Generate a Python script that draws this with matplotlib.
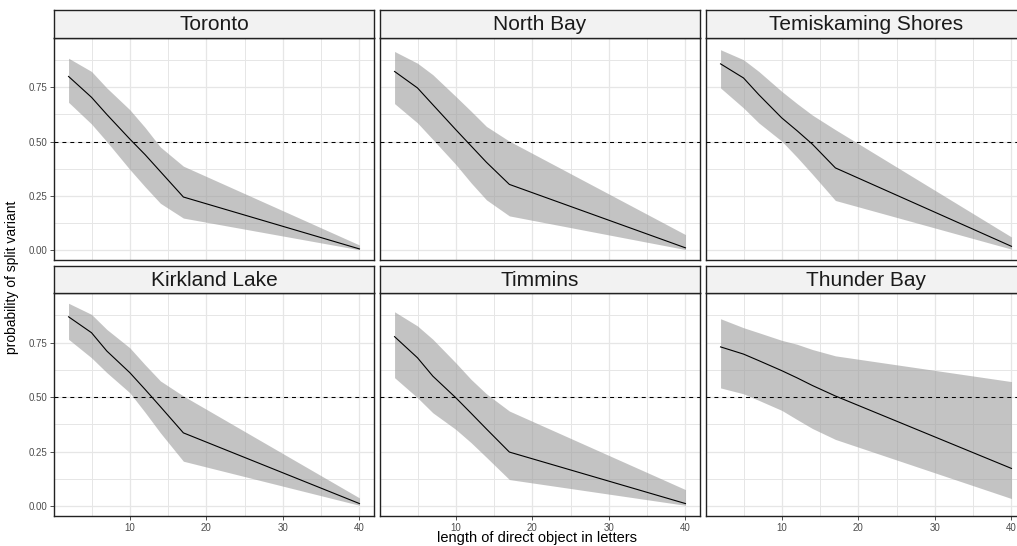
import matplotlib
matplotlib.use("Agg")
import matplotlib.pyplot as plt
from matplotlib.ticker import FixedLocator

plt.rcParams['font.family'] = ['Liberation Sans', 'DejaVu Sans']

# ---------------- data ----------------
communities = ["Toronto", "North Bay", "Temiskaming Shores",
               "Kirkland Lake", "Timmins", "Thunder Bay"]
length_letters = [2, 5, 7, 10, 12, 14, 17, 40]

fit_toronto = [0.800, 0.704, 0.625, 0.512, 0.440, 0.362, 0.245, 0.006]
lo_toronto = [0.681, 0.581, 0.500, 0.372, 0.292, 0.216, 0.148, 0.002]
hi_toronto = [0.884, 0.823, 0.747, 0.647, 0.565, 0.475, 0.387, 0.024]

fit_northbay = [0.823, 0.747, 0.670, 0.555, 0.480, 0.405, 0.303, 0.011]
lo_northbay = [0.675, 0.586, 0.510, 0.395, 0.310, 0.232, 0.158, 0.003]
hi_northbay = [0.915, 0.861, 0.808, 0.708, 0.640, 0.570, 0.502, 0.072]

fit_temiskaming = [0.858, 0.793, 0.716, 0.609, 0.550, 0.488, 0.379, 0.018]
lo_temiskaming = [0.747, 0.655, 0.586, 0.502, 0.428, 0.350, 0.229, 0.005]
hi_temiskaming = [0.923, 0.877, 0.823, 0.731, 0.675, 0.622, 0.555, 0.061]

fit_kirkland = [0.868, 0.795, 0.711, 0.612, 0.535, 0.456, 0.336, 0.012]
lo_kirkland = [0.765, 0.680, 0.612, 0.520, 0.430, 0.336, 0.206, 0.004]
hi_kirkland = [0.930, 0.879, 0.810, 0.726, 0.648, 0.574, 0.505, 0.038]

fit_timmins = [0.777, 0.680, 0.596, 0.497, 0.426, 0.354, 0.248, 0.012]
lo_timmins = [0.589, 0.497, 0.428, 0.352, 0.291, 0.224, 0.122, 0.004]
hi_timmins = [0.891, 0.826, 0.765, 0.657, 0.581, 0.515, 0.436, 0.076]

fit_thunderbay = [0.730, 0.697, 0.667, 0.621, 0.588, 0.553, 0.505, 0.173]
lo_thunderbay = [0.542, 0.515, 0.485, 0.439, 0.397, 0.356, 0.306, 0.035]
hi_thunderbay = [0.859, 0.818, 0.795, 0.760, 0.742, 0.718, 0.689, 0.571]

fits = [fit_toronto, fit_northbay, fit_temiskaming, fit_kirkland, fit_timmins, fit_thunderbay]
los = [lo_toronto, lo_northbay, lo_temiskaming, lo_kirkland, lo_timmins, lo_thunderbay]
his = [hi_toronto, hi_northbay, hi_temiskaming, hi_kirkland, hi_timmins, hi_thunderbay]

x_ticks = [10, 20, 30, 40]
y_ticks = [0.00, 0.25, 0.50, 0.75]
y_ticklabels = ["0.00", "0.25", "0.50", "0.75"]
threshold = 0.5

# ---------------- layout (pixels) ----------------
W, H = 1017, 546
fig = plt.figure(figsize=(W / 100, H / 100), dpi=100)

col_left = [54, 380, 706]
panel_w = 320
rows = [(10, 38, 260), (266, 293, 516)]  # strip top, panel top, panel bottom


def px_axes(x0, y0, x1, y1):
    return fig.add_axes([x0 / W, 1 - y1 / H, (x1 - x0) / W, (y1 - y0) / H])


grid_col = "#E6E6E6"
for i, name in enumerate(communities):
    r, c = divmod(i, 3)
    st, pt, pb = rows[r]
    x0 = col_left[c]
    ax = px_axes(x0, pt, x0 + panel_w, pb)
    ax.set_xlim(0.1, 41.9)
    ax.set_ylim(-0.045, 0.977)
    ax.set_facecolor("white")
    ax.xaxis.set_major_locator(FixedLocator(x_ticks))
    ax.xaxis.set_minor_locator(FixedLocator([5, 15, 25, 35]))
    ax.yaxis.set_major_locator(FixedLocator(y_ticks))
    ax.yaxis.set_minor_locator(FixedLocator([0.125, 0.375, 0.625, 0.875]))
    ax.grid(which="major", color=grid_col, lw=0.9)
    ax.grid(which="minor", color=grid_col, lw=0.7)
    ax.set_axisbelow(True)
    ax.fill_between(length_letters, los[i], his[i], color="#999999",
                    alpha=0.58, lw=0, zorder=2)
    ax.plot(length_letters, fits[i], color="black", lw=0.8, zorder=3)
    ax.axhline(threshold, color="black", lw=0.75, ls=(0, (3.8, 3.8)), zorder=4)
    for s in ax.spines.values():
        s.set_color("#222222")
        s.set_linewidth(1.0)
    ax.tick_params(which="minor", length=0)
    ax.tick_params(which="major", length=3, width=0.6, color="#333333",
                   labelsize=7, labelcolor="#4D4D4D", pad=2)
    if c == 0:
        ax.set_yticklabels(y_ticklabels)
    else:
        ax.tick_params(axis="y", labelleft=False, length=0)
    if r == 1:
        ax.set_xticklabels([str(v) for v in x_ticks])
    else:
        ax.tick_params(axis="x", labelbottom=False, length=0)

    sax = px_axes(x0, st, x0 + panel_w, pt)
    sax.set_facecolor("#F2F2F2")
    sax.set_xticks([])
    sax.set_yticks([])
    for s in sax.spines.values():
        s.set_color("#222222")
        s.set_linewidth(1.0)
    sax.text(0.5, 0.48, name, ha="center", va="center", fontsize=15,
             color="#1A1A1A", transform=sax.transAxes)

fig.text(12 / W, 1 - 277 / H, "probability of split variant", rotation=90,
         ha="center", va="center", fontsize=10, color="black")
fig.text(537 / W, 1 - 538 / H, "length of direct object in letters",
         ha="center", va="center", fontsize=10.5, color="black")

fig.savefig("out.png", dpi=100)
